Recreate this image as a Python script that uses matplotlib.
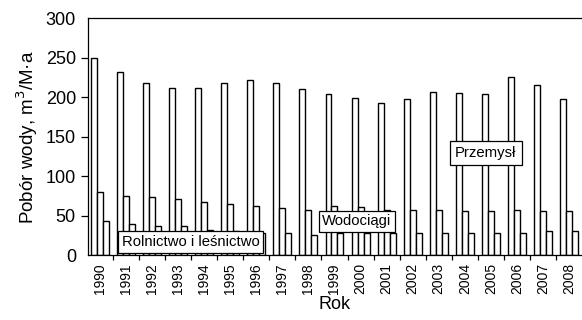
import matplotlib
matplotlib.use("Agg")
import matplotlib.pyplot as plt
import numpy as np

plt.rcParams['font.family'] = ['Liberation Sans', 'DejaVu Sans']

years = [str(y) for y in range(1990, 2009)]
przemysl = [250, 232, 218, 212, 212, 218, 222, 218, 210, 204, 199, 193, 198, 207, 206, 204, 226, 215, 198]
wodociagi = [80, 75, 74, 72, 68, 65, 63, 60, 57, 63, 61, 57, 57, 57, 56, 56, 57, 56, 56]
rolnictwo = [44, 40, 37, 37, 32, 31, 28, 29, 26, 28, 28, 28, 29, 28, 29, 29, 29, 31, 31]

fig = plt.figure(figsize=(5.82, 3.20), dpi=100)
ax = fig.add_axes([0.1507, 0.2016, 0.8493, 0.7413])

x = np.arange(len(years))
w = 0.23
style = dict(color='white', edgecolor='black', linewidth=1.0, zorder=2)
ax.bar(x - w, przemysl, w, **style)
ax.bar(x, wodociagi, w, **style)
ax.bar(x + w, rolnictwo, w, **style)

ax.set_xlim(-0.472, 18.5)
ax.set_ylim(0, 300)

ax.spines['right'].set_visible(False)
for s in ('left', 'top', 'bottom'):
    ax.spines[s].set_linewidth(0.9)

ax.set_yticks(range(0, 301, 50))
ax.tick_params(axis='y', length=5, width=0.9, pad=3.5, labelsize=13)
yt = ax.yaxis.get_major_ticks()
yt[0].tick1line.set_visible(False)
yt[-1].tick1line.set_visible(False)

ax.set_xticks(x)
ax.set_xticklabels(years, rotation=90)
ax.tick_params(axis='x', which='major', length=0, pad=5.5, labelsize=10)
ax.set_xticks(x[:-1] + 0.5, minor=True)
ax.tick_params(axis='x', which='minor', length=3.8, width=0.9)

ax.set_ylabel('Pobór wody, m$^3$/M·a', fontsize=13.5, labelpad=4)
ax.set_xlabel('Rok', fontsize=13, labelpad=1)

box = dict(boxstyle='square,pad=0.25', facecolor='white', edgecolor='black', linewidth=0.9)
ax.text(3.47, 17, 'Rolnictwo i leśnictwo', ha='center', va='center', fontsize=10.7, bbox=box, zorder=5)
ax.text(9.86, 43, 'Wodociągi', ha='center', va='center', fontsize=10.7, bbox=box, zorder=5)
ax.text(14.81, 129.6, 'Przemysł', ha='center', va='center', fontsize=10.7,
        bbox=dict(box, boxstyle='square,pad=0.35'), zorder=5)

fig.savefig('out.png', dpi=100)
